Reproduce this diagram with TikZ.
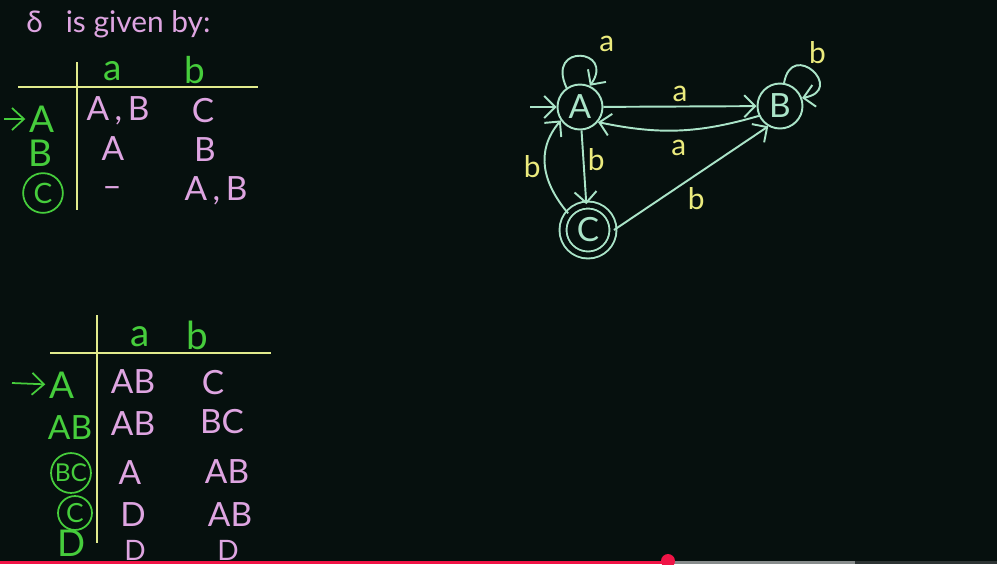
\documentclass[tikz,border=0pt]{standalone}
\usepackage{fontspec}
\setmainfont{Lato}
\usetikzlibrary{arrows.meta}
\definecolor{board}{RGB}{6,16,14}
\definecolor{chalkpink}{RGB}{222,165,225}
\definecolor{chalkgreen}{RGB}{70,205,60}
\definecolor{chalkline}{RGB}{225,235,140}
\definecolor{chalkmint}{RGB}{170,228,200}
\definecolor{chalkyellow}{RGB}{235,235,125}
\definecolor{barred}{RGB}{240,20,70}
\definecolor{bargrey}{RGB}{135,140,140}
\definecolor{bardark}{RGB}{45,52,52}

\tikzset{
  hd/.style={text=chalkgreen, font=\fontsize{10.5}{12}\selectfont, inner sep=1pt},
  ring/.style={draw=chalkgreen, circle, line width=0.5pt, inner sep=1.2pt},
  entry/.style={text=chalkpink, font=\fontsize{9.5}{11}\selectfont, inner sep=1pt},
  rule/.style={draw=chalkline, line width=0.6pt},
  arr/.style={draw=chalkgreen, line width=0.5pt, -{Straight Barb[length=1.2mm, width=2.2mm]}},
  state/.style={circle, draw=chalkmint, line width=0.55pt, minimum size=4.5mm,
    inner sep=0pt, text=chalkmint, font=\fontsize{9.5}{10}\selectfont},
  final/.style={state, minimum size=5mm, double=board, double distance=0.5mm},
  edge/.style={draw=chalkmint, line width=0.55pt, -{Straight Barb[length=1.1mm, width=2.2mm]}},
  lbl/.style={text=chalkyellow, font=\fontsize{8.5}{10}\selectfont, inner sep=1pt}
}

\begin{document}
\begin{tikzpicture}[x=0.1mm, y=-0.1mm]
\useasboundingbox (0,0) rectangle (997,564);
\fill[board] (0,0) rectangle (997,564);
\clip (0,0) rectangle (997,564);

% title
\node[text=chalkpink, font=\fontsize{8.5}{11}\selectfont, anchor=west] (title) at (14,24) {δ\ \ \ is given by:};

% first table
\draw[rule] (77,62) -- (77,210);
\draw[rule] (18,87) -- (258,87);
\node[hd] (h1a) at (113,71) {a};
\node[hd] (h1b) at (195,70) {b};
\node[hd] (r1A) at (42,119) {A};
\coordinate (s1) at (4,119);
\draw[arr] (s1) -- (r1A);
\node[hd] (r1B) at (40,153) {B};
\node[hd, ring, font=\fontsize{8}{9}\selectfont] (r1C) at (43,193) {C};
\node[entry] (e1) at (118,111) {A\,,\,B};
\node[entry] (e2) at (203,111) {C};
\node[entry] (e3) at (113,149) {A};
\node[entry] (e4) at (205,150) {B};
\node[entry] (e5) at (112,192) {--};
\node[entry] (e6) at (216,191) {A\,,\,B};

% second table
\draw[rule] (97,315) -- (97,543);
\draw[rule] (50,353) -- (271,353);
\node[hd, font=\fontsize{11}{12}\selectfont] (h2a) at (140,337) {a};
\node[hd, font=\fontsize{11}{12}\selectfont] (h2b) at (197,335) {b};
\node[hd] (r2A) at (62,385) {A};
\coordinate (s2) at (12,383);
\draw[arr] (s2) -- (r2A);
\node[hd, font=\fontsize{9.5}{11}\selectfont] (r2AB) at (70,428) {AB};
\node[hd, ring, font=\fontsize{7}{9}\selectfont, inner sep=0.3pt] (r2BC) at (71,473) {BC};
\node[hd, ring, font=\fontsize{7.5}{9}\selectfont, inner sep=0.8pt] (r2C) at (75,513) {C};
\node[hd] (r2D) at (72,543) {D};
\node[entry] (f1) at (133,382) {AB};
\node[entry] (f2) at (213,383) {C};
\node[entry] (f3) at (133,424) {AB};
\node[entry] (f4) at (222,422) {BC};
\node[entry] (f5) at (130,473) {A};
\node[entry] (f6) at (227,472) {AB};
\node[entry] (f7) at (133,515) {D};
\node[entry] (f8) at (230,515) {AB};
\node[entry, font=\fontsize{8}{9}\selectfont] (f9) at (135,550) {D};
\node[entry, font=\fontsize{8}{9}\selectfont] (f10) at (228,550) {D};

% automaton
\node[state] (A) at (580,107) {A};
\node[state] (B) at (780,106) {B};
\node[final] (C) at (588,230) {C};
\coordinate (start) at (530,107);

\draw[edge] (start) -- (A);
\draw[edge] (A.125) .. controls +(115:5mm) and +(55:4.5mm) .. (A.65)
  node[lbl, pos=0.5, above right, xshift=1.5mm] {a};
\draw[edge] (B.80) .. controls +(80:4.5mm) and +(10:4.5mm) .. (B.20)
  node[lbl, pos=0.45, above right, xshift=-0.5mm] {b};
\draw[edge] (A) -- node[lbl, above] {a} (B);
\draw[edge] (B.205) to[bend left=14] node[lbl, below, yshift=-0.5mm] {a} (A.-40);
\draw[edge] (A) -- node[lbl, right, pos=0.4] {b} (C);
\draw[edge] (C.140) to[out=130, in=230, looseness=1.1] node[lbl, left] {b} (A.215);
\draw[edge] (C.east) -- node[lbl, below right, pos=0.45] {b} (B.240);

% video bar
\fill[barred] (0,561) rectangle (668,564);
\fill[bargrey] (668,561) rectangle (855,564);
\fill[bardark] (855,561) rectangle (997,564);
\fill[barred] (668,561) circle (7);
\end{tikzpicture}
\end{document}
